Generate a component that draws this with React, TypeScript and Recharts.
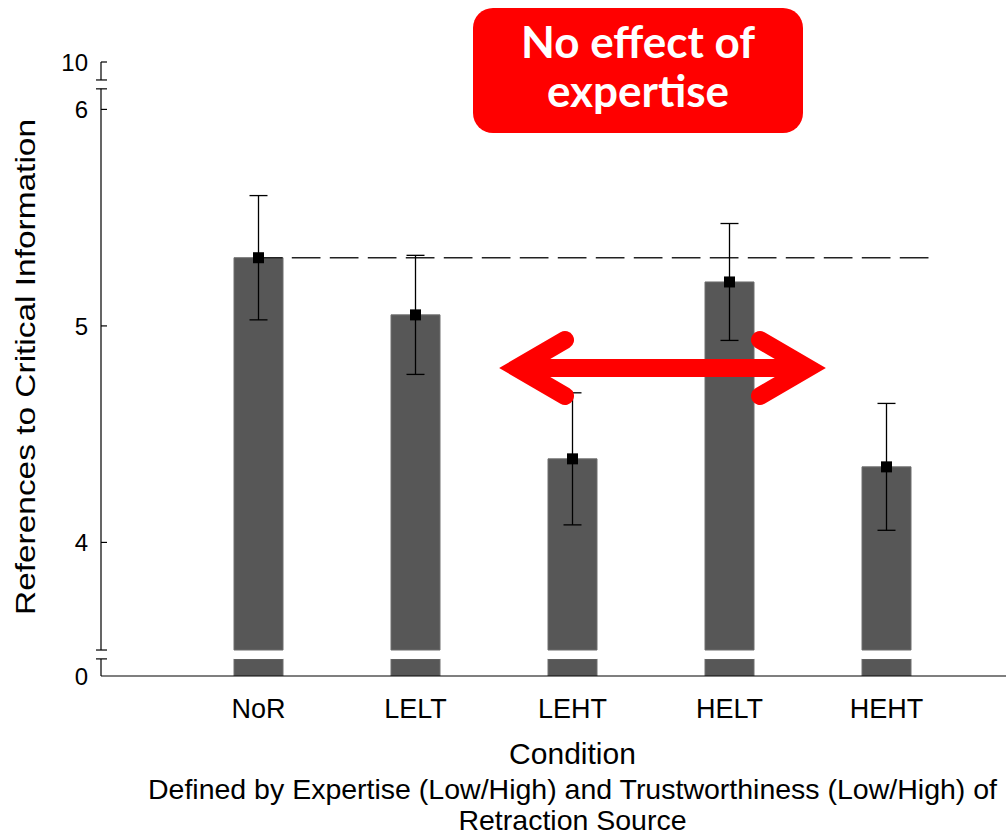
import React from 'react';
import { ComposedChart, Bar, Scatter, ErrorBar, XAxis, YAxis, ReferenceLine } from 'recharts';

const conditions = ['NoR', 'LELT', 'LEHT', 'HELT', 'HEHT'];
const means = [5.315, 5.051, 4.386, 5.203, 4.349];
const errors = [0.287, 0.275, 0.305, 0.27, 0.293];

// broken y axis: bottom stub stands for 0, top stub for 10
const yTickValues = [3.383, 4, 5, 6, 6.219];
const yTickLabels = ['0', '4', '5', '6', '10'];
const lowerBreak = [3.462, 3.503];
const upperBreak = [6.095, 6.136];
// dashed reference line at the NoR level, in category positions (NoR = 0, HEHT = 4)
const dashSpan = [-0.03, 4.28];

const W = 1007;
const H = 837;
const margin = { top: 62, right: 1, bottom: 131, left: 41 };
const yAxisWidth = 60;
const xAxisHeight = 30;
const padX = { left: 79, right: 41 };
const bandW = (W - margin.left - margin.right - yAxisWidth - padX.left - padX.right) / conditions.length;
// index axis runs centre-to-centre of the category bands
const padIdx = { left: padX.left + bandW / 2, right: padX.right + bandW / 2 };
const font = 'Liberation Sans, Arial, sans-serif';

const yMin = yTickValues[0];
const yMax = yTickValues[yTickValues.length - 1];
const plotH = H - margin.top - margin.bottom - xAxisHeight;
const k = plotH / (yMax - yMin);
const axisDash = [
  (yMax - upperBreak[1]) * k,
  (upperBreak[1] - upperBreak[0]) * k,
  (upperBreak[0] - lowerBreak[1]) * k,
  (lowerBreak[1] - lowerBreak[0]) * k,
  (lowerBreak[0] - yMin) * k,
].join(' ');

const rows = conditions.map((c, i) => ({
  condition: c,
  base: lowerBreak[0],
  gap: lowerBreak[1] - lowerBreak[0],
  top: means[i] - lowerBreak[1],
  mean: means[i],
  err: errors[i],
}));

const YTick = ({ x, y, payload }: any) => {
  const i = yTickValues.indexOf(payload.value);
  if (i < 0) {
    return <line x1={x - 5} x2={x + 6} y1={y} y2={y} stroke="#000" strokeWidth={1.2} />;
  }
  return (
    <g>
      {i > 0 && <line x1={x} x2={x + 6} y1={y} y2={y} stroke="#000" strokeWidth={1.2} />}
      <text x={x - 13} y={y} dy="0.36em" textAnchor="end" fontSize={24} fontFamily={font} fill="#000">
        {yTickLabels[i]}
      </text>
    </g>
  );
};

const YTitle = ({ viewBox }: any) => {
  const cx = viewBox.x - 6;
  const cy = viewBox.y + viewBox.height / 2 - 2;
  return (
    <text
      x={cx}
      y={cy}
      transform={`rotate(-90, ${cx}, ${cy})`}
      textAnchor="middle"
      fontSize={27}
      fontFamily={font}
      fill="#000"
      textLength={496}
      lengthAdjust="spacingAndGlyphs"
    >
      References to Critical Information
    </text>
  );
};

const XTitle = ({ viewBox }: any) => {
  const cx = viewBox.x + padX.left + (viewBox.width - padX.left - padX.right) / 2;
  const y = viewBox.y;
  return (
    <g fontFamily={font} fill="#000" textAnchor="middle">
      <text x={cx} y={y + 88} fontSize={30}>Condition</text>
      <text x={cx} y={y + 123} fontSize={28.5}>
        Defined by Expertise (Low/High) and Trustworthiness (Low/High) of
      </text>
      <text x={cx} y={y + 154} fontSize={28.5}>Retraction Source</text>
    </g>
  );
};

const Square = ({ cx, cy }: any) => (
  <rect x={cx - 5.5} y={cy - 5.5} width={11} height={11} fill="#000" />
);

const Overlay = () => (
  <svg width={W} height={H} style={{ position: 'absolute', left: 0, top: 0, pointerEvents: 'none' }}>
    <rect x={473} y={8} width={330} height={125} rx={20} fill="#ff0000" />
    <g fontFamily="Lato, 'Open Sans', sans-serif" fontWeight={700} fontSize={44} fill="#fff" textAnchor="middle">
      <text x={638} y={58}>No effect of</text>
      <text x={638} y={107}>expertise</text>
    </g>
    <g stroke="#ff0000" strokeWidth={18} fill="none">
      <line x1={517} y1={368} x2={808} y2={368} />
      <polyline points="565,340 517,368 565,396" strokeLinecap="round" strokeLinejoin="miter" />
      <polyline points="760,340 808,368 760,396" strokeLinecap="round" strokeLinejoin="miter" />
    </g>
  </svg>
);

export default function App() {
  return (
    <div style={{ position: 'absolute', left: 0, top: 0, width: W, height: H, background: '#fff' }}>
      <ComposedChart width={W} height={H} data={rows} margin={margin}>
        <XAxis
          dataKey="condition"
          height={xAxisHeight}
          padding={padX}
          tickLine={false}
          tickMargin={17}
          axisLine={{ stroke: '#000', strokeWidth: 1.2 }}
          tick={{ fontSize: 27, fill: '#000', fontFamily: font }}
          label={<XTitle />}
        />
        <XAxis
          xAxisId="idx"
          type="number"
          domain={[0, conditions.length - 1]}
          allowDataOverflow
          padding={padIdx}
          height={0}
          tick={false}
          tickLine={false}
          axisLine={false}
        />
        <YAxis
          width={yAxisWidth}
          type="number"
          domain={[yMin, yMax]}
          allowDataOverflow
          ticks={[...yTickValues, ...lowerBreak, ...upperBreak].sort((a, b) => a - b)}
          interval={0}
          tickLine={false}
          tickSize={0}
          tickMargin={0}
          tick={<YTick />}
          axisLine={{ stroke: '#000', strokeWidth: 1.2, strokeDasharray: axisDash }}
          label={<YTitle />}
        />
        <Bar dataKey="base" stackId="a" barSize={49} fill="#575757" stroke="#6f6f6f" isAnimationActive={false} />
        <Bar dataKey="gap" stackId="a" barSize={49} fill="#fff" isAnimationActive={false} />
        <Bar dataKey="top" stackId="a" barSize={49} fill="#575757" stroke="#6f6f6f" isAnimationActive={false} />
        <ReferenceLine
          xAxisId="idx"
          ifOverflow="visible"
          segment={[
            { x: dashSpan[0], y: means[0] },
            { x: dashSpan[1], y: means[0] },
          ]}
          stroke="#222"
          strokeWidth={1.5}
          strokeDasharray="28.7 9.3"
        />
        <Scatter dataKey="mean" shape={<Square />} isAnimationActive={false}>
          <ErrorBar dataKey="err" direction="y" width={9} stroke="#000" strokeWidth={1.3} />
        </Scatter>
      </ComposedChart>
      <Overlay />
    </div>
  );
}
